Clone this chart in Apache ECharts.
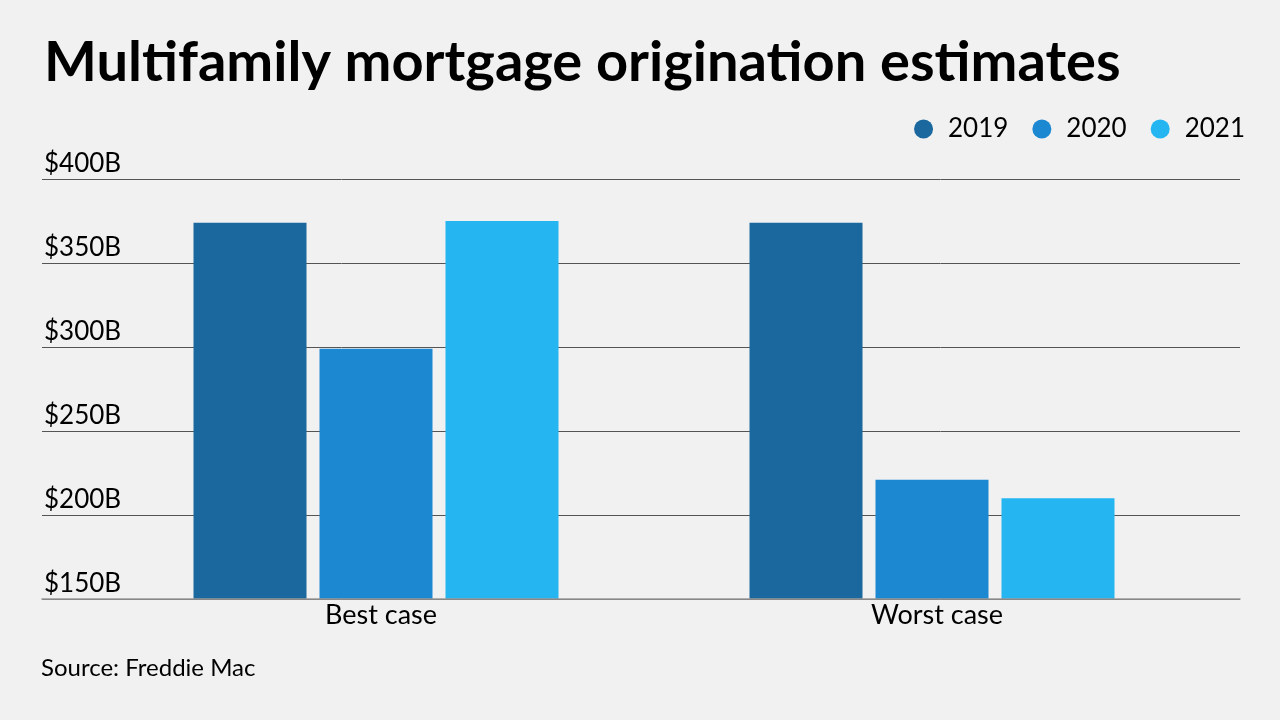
<!DOCTYPE html>
<html><head><meta charset="utf-8">
<script src="https://cdn.jsdelivr.net/npm/echarts@6/dist/echarts.min.js"></script>
<style>html,body{margin:0;padding:0;background:#f0f1f0;}#c{width:1280px;height:720px;}</style>
</head><body><div id="c"></div>
<script>
const categories = ['Best case', 'Worst case'];
const seriesNames = ['2019', '2020', '2021'];
const values2019 = [374, 374];
const values2020 = [299, 221];
const values2021 = [375, 210];
const colors = ['#1a689e', '#1c88d2', '#25b6f2'];
const FONT = 'Lato';

const chart = echarts.init(document.getElementById('c'));
chart.setOption({
  backgroundColor: '#f0f1f0',
  animation: false,
  textStyle: { fontFamily: FONT },
  title: {
    text: 'Multifamily mortgage origination estimates',
    left: 39, top: 30,
    textStyle: { fontFamily: FONT, fontSize: 56, fontWeight: 'bold', color: '#000' }
  },
  legend: {
    data: seriesNames,
    right: 30, top: 111,
    icon: 'circle', itemWidth: 19, itemHeight: 19, itemGap: 24,
    textStyle: { fontSize: 26, color: '#000', fontFamily: FONT, padding: [0, 0, 0, 10] }
  },
  graphic: [{
    type: 'text', left: 41, top: 656,
    style: { text: 'Source: Freddie Mac', fontSize: 24, fill: '#000', fontFamily: FONT }
  }],
  grid: [
    { left: 42, right: 40, top: 179, bottom: 121 },
    { left: 98, right: 70, top: 179, bottom: 121 }
  ],
  xAxis: [
    { gridIndex: 0, type: 'category', data: categories, axisLabel: { show: false }, axisTick: { show: false },
      axisLine: { show: true, lineStyle: { color: '#999', width: 1.5 } }, z: 5 },
    { gridIndex: 1, type: 'category', data: categories, axisTick: { show: false }, axisLine: { show: false },
      axisLabel: { fontSize: 27, color: '#000', margin: 3, fontFamily: FONT, padding: [0, 0, 0, 10] } }
  ],
  yAxis: [
    { gridIndex: 0, type: 'value', min: 150, max: 400, interval: 50,
      axisLine: { show: false }, axisTick: { show: false },
      splitLine: { lineStyle: { color: '#555', width: 1 } },
      axisLabel: { inside: true, margin: 2, align: 'left', verticalAlign: 'bottom', padding: [0, 0, 2, 0],
        fontSize: 26, color: '#000', fontFamily: FONT, formatter: v => '$' + v + 'B' } },
    { gridIndex: 1, type: 'value', min: 150, max: 400, interval: 50, show: false, splitLine: { show: false } }
  ],
  series: [
    { name: seriesNames[0], type: 'bar', xAxisIndex: 1, yAxisIndex: 1, data: values2019, barWidth: 113, barGap: '11.5%', itemStyle: { color: colors[0] }, z: 3 },
    { name: seriesNames[1], type: 'bar', xAxisIndex: 1, yAxisIndex: 1, data: values2020, barWidth: 113, barGap: '11.5%', itemStyle: { color: colors[1] }, z: 3 },
    { name: seriesNames[2], type: 'bar', xAxisIndex: 1, yAxisIndex: 1, data: values2021, barWidth: 113, barGap: '11.5%', itemStyle: { color: colors[2] }, z: 3 }
  ]
});
</script></body></html>
